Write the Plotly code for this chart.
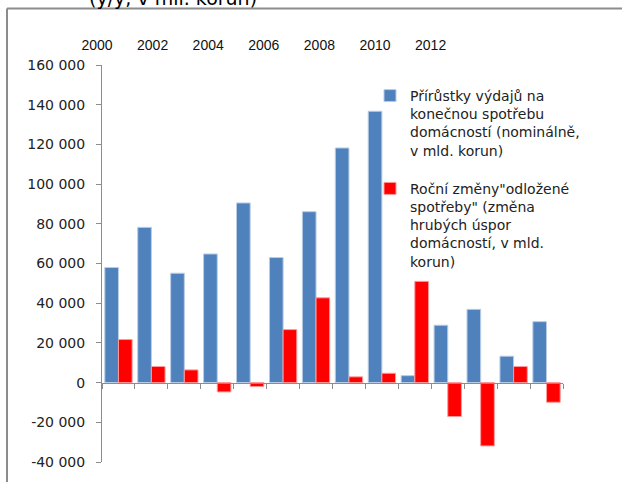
import plotly.graph_objects as go

years = [str(y) for y in range(2000, 2014)]
consumption = [58000, 78200, 55100, 64800, 90500, 63000, 86100, 118200, 136700, 3500, 28900, 36900, 13300, 30700]
deferred = [21700, 8100, 6400, -4700, -2000, 26700, 42700, 2900, 4700, 51000, -17100, -31900, 8100, -9900]

name_consumption = "Přírůstky výdajů na<br>konečnou spotřebu<br>domácností (nominálně,<br>v mld. korun)"
name_deferred = "Roční změny\"odložené<br>spotřeby\" (změna<br>hrubých úspor<br>domácností, v mld.<br>korun)"

y_tickvals = [-40000, -20000, 0, 20000, 40000, 60000, 80000, 100000, 120000, 140000, 160000]
y_ticktext = ["-40 000", "-20 000", "0", "20 000", "40 000", "60 000", "80 000",
              "100 000", "120 000", "140 000", "160 000"]

top_tickvals = [2000, 2002, 2004, 2006, 2008, 2010, 2012]
top_ticktext = ["2000", "2002", "2004", "2006", "2008", "2010", "2012"]

title_text = "(y/y, v mil. korun)"

FONT = "Liberation Sans, Arial, sans-serif"
WIDE = "DejaVu Sans, sans-serif"
W, H = 622, 482
L, R, T, B = 102, 59, 65, 20
pw, ph = W - L - R, H - T - B


def px_x(p):
    return (p - L) / pw


def px_y(p):
    return (H - B - p) / ph


# top year labels: 2000 label centred at px 97, 27.8 px per year;
# the scale puts 2000 at px 107 and the labels are shifted 10 px left
k = 27.8
shift = 10
r0 = 2000 - (97 + shift - L) / k
r1 = r0 + pw / k

fig = go.Figure()
fig.add_trace(go.Bar(x=years, y=consumption, name=name_consumption, legendgroup="a",
                     marker=dict(color="#4F81BD", line=dict(color="#B9CDE5", width=1))))
fig.add_trace(go.Bar(x=years, y=deferred, name=name_deferred, legendgroup="b",
                     marker=dict(color="#FF0000", line=dict(color="#FF9999", width=1))))
fig.add_trace(go.Scatter(x=[2000, 2012], y=[None, None], xaxis="x2", yaxis="y",
                         showlegend=False, hoverinfo="skip"))

fig.update_layout(
    width=W, height=H,
    margin=dict(l=L, r=R, t=T, b=B, pad=0),
    paper_bgcolor="white", plot_bgcolor="white",
    font=dict(family=FONT, size=14, color="#222222"),
    barmode="group", bargap=0.17, bargroupgap=0,
    showlegend=True,
    legend=dict(x=px_x(370), y=px_y(80), xanchor="left", yanchor="top",
                font=dict(family=WIDE, size=14, color="#222222"), bgcolor="rgba(0,0,0,0)",
                tracegroupgap=17, traceorder="grouped", valign="top"),
    xaxis=dict(type="category", showgrid=False, showticklabels=False,
               showline=True, linecolor="#8C8C8C", linewidth=1,
               ticks="outside", ticklen=5, tickcolor="#8C8C8C", tickson="boundaries",
               anchor="free", position=0.2, zeroline=False),
    xaxis2=dict(overlaying="x", side="top", anchor="y", range=[r0, r1],
                tickvals=top_tickvals, ticktext=top_ticktext, showgrid=False,
                showline=False, ticks="", zeroline=False, ticklabelstandoff=11,
                ticklabelshift=-shift,
                tickfont=dict(family=FONT, size=14, color="#111111")),
    yaxis=dict(range=[-40000, 160000], tickvals=y_tickvals, ticktext=y_ticktext,
               showgrid=False, zeroline=False, showline=True, linecolor="#8C8C8C",
               linewidth=1, ticks="outside", ticklen=5, tickcolor="#8C8C8C",
               ticklabelstandoff=8, tickfont=dict(family=WIDE, size=14, color="#222222")),
    shapes=[
        dict(type="line", xref="paper", yref="paper", x0=px_x(7), x1=px_x(640),
             y0=px_y(8.5), y1=px_y(8.5), line=dict(color="#8C8C8C", width=2)),
        dict(type="line", xref="paper", yref="paper", x0=px_x(7), x1=px_x(7),
             y0=px_y(8.5), y1=px_y(500), line=dict(color="#8C8C8C", width=2)),
    ],
    annotations=[
        dict(text=title_text, xref="paper", yref="paper", x=px_x(87), y=px_y(10.5),
             xanchor="left", yanchor="bottom", showarrow=False,
             font=dict(family=WIDE, size=19, color="#000000")),
    ],
)

fig.write_html("out.html", config={"displayModeBar": False},
               post_script="document.body.style.margin='0';document.body.style.padding='0';")
